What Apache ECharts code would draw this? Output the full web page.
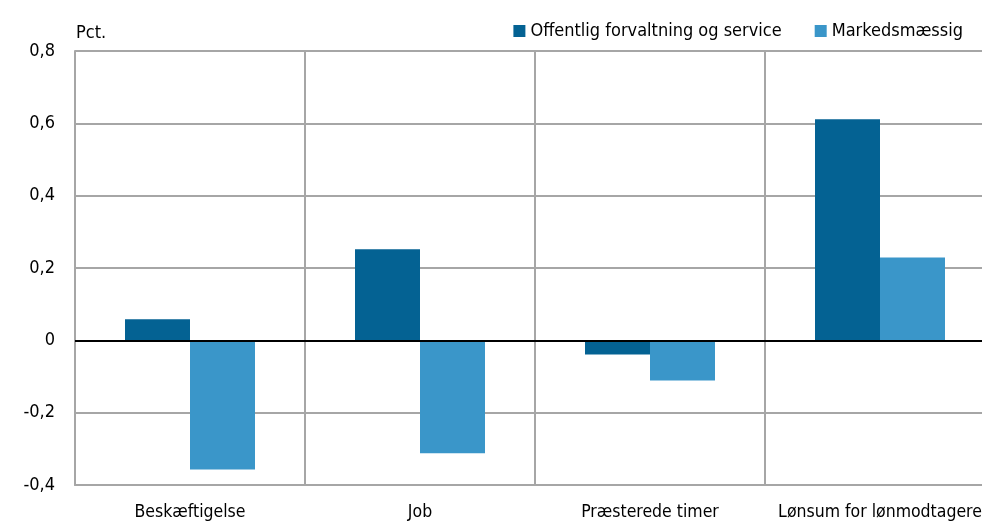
<!DOCTYPE html>
<html><head><meta charset="utf-8">
<script src="https://cdn.jsdelivr.net/npm/echarts@6/dist/echarts.min.js"></script>
<style>html,body{margin:0;padding:0;background:#fff;overflow:hidden}#c{width:995px;height:523px}</style>
</head><body><div id="c"></div>
<script>
const categories = ['Beskæftigelse', 'Job', 'Præsterede timer', 'Lønsum for lønmodtagere'];
const offentlig = [0.058, 0.252, -0.039, 0.611];
const markedsmaessig = [-0.357, -0.312, -0.111, 0.229];
const seriesNames = ['Offentlig forvaltning og service', 'Markedsmæssig'];
const yTicks = { min: -0.4, max: 0.8, interval: 0.2 };
const FONT = '"Liberation Sans Narrow", "DejaVu Sans Condensed", "Liberation Sans", sans-serif';

const chart = echarts.init(document.getElementById('c'));
chart.setOption({
  animation: false,
  textStyle: { fontFamily: FONT },
  title: { text: 'Pct.', left: 71, top: 19, textStyle: { fontFamily: FONT, fontSize: 18, fontWeight: 'normal', color: '#000' } },
  legend: {
    right: 27, top: 17, itemWidth: 12, itemHeight: 12, itemGap: 33,
    textStyle: { fontFamily: FONT, fontSize: 18, color: '#000' },
    data: seriesNames.map(n => ({ name: n, icon: 'rect' }))
  },
  grid: { left: 75, right: 0, top: 51, bottom: 38, containLabel: false },
  xAxis: {
    type: 'category', data: categories,
    axisLine: { onZero: false, lineStyle: { color: '#a6a6a6', width: 2 } },
    axisTick: { show: false },
    axisLabel: { interval: 0, fontFamily: FONT, fontSize: 17.5, color: '#000', margin: 18 },
    splitLine: { show: true, interval: 0, lineStyle: { color: '#a6a6a6', width: 2 } }
  },
  yAxis: {
    type: 'value', min: yTicks.min, max: yTicks.max, interval: yTicks.interval,
    axisLine: { show: true, lineStyle: { color: '#a6a6a6', width: 2 } },
    axisTick: { show: false },
    axisLabel: { fontFamily: FONT, fontSize: 18, color: '#000', margin: 20,
      formatter: v => (Math.round(v * 10) / 10).toString().replace('.', ',') },
    splitLine: { show: true, lineStyle: { color: '#a6a6a6', width: 2 } }
  },
  series: [
    { name: seriesNames[0], type: 'bar', data: offentlig, barWidth: 65, barGap: '0%',
      itemStyle: { color: '#046293' },
      markLine: { silent: true, symbol: 'none', label: { show: false },
        lineStyle: { color: '#000', width: 2, type: 'solid' }, data: [{ yAxis: 0 }] } },
    { name: seriesNames[1], type: 'bar', data: markedsmaessig, barWidth: 65, barGap: '0%',
      itemStyle: { color: '#3a96c9' } }
  ]
});
</script></body></html>
